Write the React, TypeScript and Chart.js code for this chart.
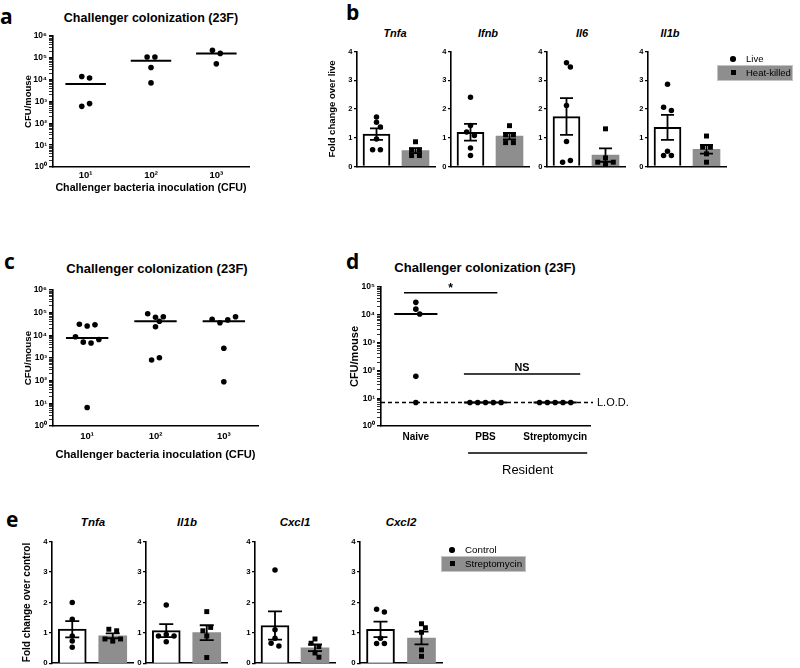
import React, { useEffect, useRef } from 'react';
import { Chart, registerables } from 'chart.js';

Chart.register(...registerables);

const SANS = "'Liberation Sans', Arial, Helvetica, sans-serif";
const LETTER_FONT = "'Open Sans', 'Liberation Sans', Arial, sans-serif";
const GRAY = '#8e8e8e';
const INK = '#000000';

/* ---------------- data: panel a ---------------- */
const aDoseLabels = ['10¹', '10²', '10³'];
const aDose1 = [1.4e4, 1.2e4, 600, 800];
const aDose2 = [1.1e5, 1.1e5, 3.6e4, 7.1e3];
const aDose3 = [2.2e5, 1.6e5, 5.3e4];

/* ---------------- data: panel c ---------------- */
const cDoseLabels = ['10¹', '10²', '10³'];
const cDose1 = [3.1e4, 2.6e4, 2.9e4, 8.7e3, 5.0e3, 4.6e3, 6.5e3, 6.5];
const cDose2 = [9.0e4, 6.3e4, 6.6e4, 4.2e4, 2.4e4, 810, 1020];
const cDose3 = [5.1e4, 3.6e4, 4.8e4, 6.6e4, 2.7e3, 89];

/* ---------------- data: panel d ---------------- */
const dGroupLabels = ['Naive', 'PBS', 'Streptomycin'];
const dNaive = [2.8e4, 1.6e4, 1.07e4, 61, 7];
const dPBS = [7, 7, 7, 7, 7];
const dStreptomycin = [7, 7, 7, 7, 7];
const dLOD = 7;
const dSigLabels = ['*', 'NS'];
const dSigLevels = [6.2e4, 74];
const dSigFrom = [0.83, 1.69];
const dSigTo = [2.17, 3.36];
const dResidentLabel = 'Resident';
const dResidentFrom = 1.75;
const dResidentTo = 3.46;

/* ---------------- data: panel b ---------------- */
const bGenes = ['Tnfa', 'Ifnb', 'Il6', 'Il1b'];
const bLegend = ['Live', 'Heat-killed'];
const bTnfaLive = [1.72, 1.54, 1.37, 0.96, 0.58, 0.58];
const bTnfaHK = [0.86, 0.57, 0.57, 0.38, 0.38];
const bIfnbLive = [2.41, 1.43, 1.2, 1.08, 0.64, 0.38];
const bIfnbHK = [1.42, 1.1, 1.1, 0.83, 0.83];
const bIl6Live = [3.61, 3.46, 2.12, 0.87, 0.15, 0.21];
const bIl6HK = [1.31, 0.15, 0.07, 0.15, 0.3];
const bIl1bLive = [2.86, 2.06, 1.95, 0.53, 0.38, 0.38];
const bIl1bHK = [1.06, 0.67, 0.67, 0.44, 0.15];

/* ---------------- data: panel e ---------------- */
const eGenes = ['Tnfa', 'Il1b', 'Cxcl1', 'Cxcl2'];
const eLegend = ['Control', 'Streptomycin'];
const eTnfaCtrl = [2.0, 1.45, 0.9, 0.73, 0.53];
const eTnfaStrep = [1.12, 1.07, 0.8, 0.73, 0.8];
const eIl1bCtrl = [1.92, 0.9, 0.95, 0.9, 0.71];
const eIl1bStrep = [1.7, 1.07, 1.18, 0.9, 0.19];
const eCxcl1Ctrl = [3.07, 1.1, 0.82, 0.66, 0.57];
const eCxcl1Strep = [0.66, 0.8, 0.55, 0.34, 0.2];
const eCxcl2Ctrl = [1.78, 1.69, 0.82, 0.65, 0.65];
const eCxcl2Strep = [1.3, 1.17, 1.02, 0.44, 0.23];

const bFoldTicks = [0, 1, 2, 3, 4];

/* ---------------- helpers ---------------- */
function mean(v: number[]) {
  return v.reduce((s, x) => s + x, 0) / v.length;
}
function sem(v: number[]) {
  const m = mean(v);
  const ss = v.reduce((s, x) => s + (x - m) * (x - m), 0);
  return Math.sqrt(ss / (v.length - 1)) / Math.sqrt(v.length);
}
function median(v: number[]) {
  const s = [...v].sort((a, b) => a - b);
  const n = s.length;
  return n % 2 ? s[(n - 1) / 2] : (s[n / 2 - 1] + s[n / 2]) / 2;
}
const SUP = ['⁰', '¹', '²', '³', '⁴', '⁵', '⁶', '⁷', '⁸', '⁹'];
function isPow10(v: number) {
  if (!(v > 0)) return false;
  const e = Math.round(Math.log10(v));
  return Math.abs(v - Math.pow(10, e)) < 1e-6 * v;
}
function powLabel(v: number) {
  return isPow10(v) ? '10' + SUP[Math.round(Math.log10(v))] : '';
}
function logTicks(maxExp: number) {
  const t: any[] = [];
  for (let e = 0; e < maxExp; e++) for (let k = 1; k < 10; k++) t.push({ value: k * Math.pow(10, e) });
  t.push({ value: Math.pow(10, maxExp) });
  return t;
}

type Box = { left: number; top: number; w: number; h: number; yW: number; padT: number; padR: number; xH: number };
function makeBox(L: number, T: number, R: number, B: number, yW: number, padT: number, padR: number, xH: number): Box {
  const left = Math.floor(L - yW);
  const top = Math.floor(T - padT);
  const w = Math.ceil(R + padR - left);
  const h = Math.ceil(B + xH - top);
  return { left, top, w, h, yW: L - left, padT: T - top, padR: w - (R - left), xH: h - (B - top) };
}

/* ---------------- plugins ---------------- */
const SWARM_ROW_GAP = 3.5;
const SWARM_STEP = 7.8;
const SWARM_MIN_DIST = 5.0;
const swarmPlugin = {
  id: 'swarmLayout',
  afterDatasetsUpdate(chart: any) {
    chart.data.datasets.forEach((ds: any, di: number) => {
      if (!ds.swarm) return;
      const meta = chart.getDatasetMeta(di);
      const pts = meta.data.map((el: any, idx: number) => ({ el, idx, x0: el.x, y: el.y }));
      const sorted = [...pts].sort((a: any, b: any) => a.y - b.y || a.idx - b.idx);
      const rows: any[][] = [];
      for (const p of sorted) {
        const row = rows[rows.length - 1];
        if (row && p.y - row[row.length - 1].y < SWARM_ROW_GAP) row.push(p);
        else rows.push([p]);
      }
      const placed: { dx: number; y: number }[] = [];
      const shifts = [0];
      for (let k = 1; k <= 16; k++) shifts.push((k * SWARM_STEP) / 2, (-k * SWARM_STEP) / 2);
      for (const row of rows) {
        row.sort((a: any, b: any) => a.idx - b.idx);
        const n = row.length;
        const base = row.map((_: any, j: number) => (j - (n - 1) / 2) * SWARM_STEP);
        let shift = 0;
        for (const s of shifts) {
          const free = row.every((p: any, j: number) =>
            placed.every((q) => Math.hypot(base[j] + s - q.dx, p.y - q.y) >= SWARM_MIN_DIST)
          );
          if (free) {
            shift = s;
            break;
          }
        }
        row.forEach((p: any, j: number) => {
          const dx = base[j] + shift;
          p.el.x = p.x0 + dx;
          placed.push({ dx, y: p.y });
        });
      }
    });
  },
};

const errorBarPlugin = {
  id: 'semErrorBars',
  afterDatasetsDraw(chart: any) {
    const ctx = chart.ctx;
    const yS = chart.scales.y;
    chart.data.datasets.forEach((ds: any, di: number) => {
      if (!ds.errorBars) return;
      const meta = chart.getDatasetMeta(di);
      meta.data.forEach((el: any, j: number) => {
        const m = ds.data[j].y;
        const e = ds.errorBars[j];
        const yt = yS.getPixelForValue(m + e);
        const yb = yS.getPixelForValue(Math.max(m - e, 0));
        const cap = ds.errorCap || 6;
        ctx.save();
        ctx.strokeStyle = INK;
        ctx.lineWidth = 1.8;
        ctx.beginPath();
        ctx.moveTo(el.x, yt);
        ctx.lineTo(el.x, yb);
        ctx.moveTo(el.x - cap, yt);
        ctx.lineTo(el.x + cap, yt);
        ctx.moveTo(el.x - cap, yb);
        ctx.lineTo(el.x + cap, yb);
        ctx.stroke();
        ctx.restore();
      });
    });
  },
};

Chart.register(swarmPlugin as any, errorBarPlugin as any);

const dAnnotPlugin = {
  id: 'dAnnotations',
  beforeDatasetsDraw(chart: any) {
    const { ctx, chartArea, scales } = chart;
    const yy = scales.y.getPixelForValue(dLOD);
    ctx.save();
    ctx.setLineDash([4, 3]);
    ctx.lineWidth = 1.5;
    ctx.strokeStyle = INK;
    ctx.beginPath();
    ctx.moveTo(chartArea.left, yy);
    ctx.lineTo(chartArea.right + 3, yy);
    ctx.stroke();
    ctx.restore();
  },
  afterDraw(chart: any) {
    const { ctx, chartArea, scales } = chart;
    const x = scales.x;
    const y = scales.y;
    ctx.save();
    ctx.fillStyle = INK;
    ctx.strokeStyle = INK;
    ctx.font = `11px ${SANS}`;
    ctx.textAlign = 'left';
    ctx.textBaseline = 'middle';
    ctx.fillText('L.O.D.', chartArea.right + 7, y.getPixelForValue(dLOD) + 0.5);
    dSigLabels.forEach((lab, i) => {
      const py = y.getPixelForValue(dSigLevels[i]);
      ctx.lineWidth = 1.5;
      ctx.beginPath();
      ctx.moveTo(x.getPixelForValue(dSigFrom[i]), py);
      ctx.lineTo(x.getPixelForValue(dSigTo[i]), py);
      ctx.stroke();
      ctx.font = `bold ${lab === '*' ? 12 : 10.8}px ${SANS}`;
      ctx.textAlign = 'center';
      ctx.textBaseline = 'middle';
      const cx = (x.getPixelForValue(dSigFrom[i]) + x.getPixelForValue(dSigTo[i])) / 2;
      ctx.fillText(lab, cx, py - (lab === '*' ? 4 : 6.5));
    });
    const ry = chartArea.bottom + 27;
    ctx.lineWidth = 1.5;
    ctx.beginPath();
    ctx.moveTo(x.getPixelForValue(dResidentFrom), ry);
    ctx.lineTo(x.getPixelForValue(dResidentTo), ry);
    ctx.stroke();
    ctx.font = `13px ${SANS}`;
    ctx.textAlign = 'center';
    ctx.textBaseline = 'middle';
    ctx.fillText(
      dResidentLabel,
      (x.getPixelForValue(dResidentFrom) + x.getPixelForValue(dResidentTo)) / 2,
      chartArea.bottom + 44
    );
    ctx.restore();
  },
};

/* ---------------- chart configs ---------------- */
function common(box: Box) {
  return {
    responsive: false,
    animation: false,
    devicePixelRatio: 1,
    events: [],
    layout: { padding: { left: 0, top: box.padT, right: box.padR, bottom: 0 } },
    plugins: { legend: { display: false }, tooltip: { enabled: false }, title: { display: false } },
  };
}

function yTitle(box: Box, text: string, cx: number, size: number) {
  const lh = size * 1.2;
  return {
    display: true,
    text,
    color: INK,
    font: { family: SANS, size, weight: 'bold' },
    padding: { top: Math.max(0, cx - lh / 2 - box.left), bottom: 0 },
  };
}

function logPanel(
  box: Box,
  groups: number[][],
  labels: string[],
  o: {
    maxExp: number;
    yTitleX: number;
    yTitleSize: number;
    xTitle?: string;
    xTitleY?: number;
    xTitleSize?: number;
    xFont: number;
    xPad: number;
    plugins?: any[];
  }
) {
  const datasets: any[] = [];
  groups.forEach((vals, g) => {
    datasets.push({
      type: 'scatter',
      data: vals.map((v) => ({ x: g + 1, y: v })),
      pointStyle: 'circle',
      pointRadius: 2.8,
      backgroundColor: INK,
      pointBackgroundColor: INK,
      borderWidth: 0,
      pointBorderWidth: 0,
      swarm: true,
      order: 1,
      clip: false,
    });
    const m = median(vals);
    datasets.push({
      type: 'line',
      data: [
        { x: g + 1 - 0.31, y: m },
        { x: g + 1 + 0.31, y: m },
      ],
      showLine: true,
      borderColor: INK,
      borderWidth: 2,
      pointRadius: 0,
      order: 0,
      clip: false,
    });
  });
  let xTitleCfg: any = { display: false };
  if (o.xTitle) {
    const lh = (o.xTitleSize as number) * 1.2;
    xTitleCfg = {
      display: true,
      text: o.xTitle,
      color: INK,
      font: { family: SANS, size: o.xTitleSize, weight: 'bold' },
      padding: { top: 0, bottom: Math.max(0, box.top + box.h - (o.xTitleY as number) - lh / 2) },
    };
  }
  return {
    type: 'scatter',
    data: { datasets },
    plugins: o.plugins || [],
    options: {
      ...common(box),
      scales: {
        x: {
          type: 'linear',
          min: 0.5,
          max: labels.length + 0.5,
          offset: false,
          bounds: 'data',
          afterBuildTicks: (s: any) => {
            s.ticks = labels.map((_, i) => ({ value: i + 1 }));
          },
          afterFit: (s: any) => {
            s.height = box.xH;
          },
          ticks: {
            autoSkip: false,
            maxRotation: 0,
            minRotation: 0,
            padding: o.xPad,
            color: INK,
            font: { family: SANS, size: o.xFont, weight: 'bold' },
            callback: (_v: any, i: number) => labels[i],
          },
          grid: { display: false, drawTicks: false, tickLength: 0 },
          border: { display: true, color: INK, width: 1.6 },
          title: xTitleCfg,
        },
        y: {
          type: 'logarithmic',
          min: 1,
          max: Math.pow(10, o.maxExp),
          afterBuildTicks: (s: any) => {
            s.ticks = logTicks(o.maxExp);
          },
          afterFit: (s: any) => {
            s.width = box.yW;
          },
          ticks: {
            autoSkip: false,
            padding: 2,
            color: INK,
            font: { family: SANS, size: 8.5, weight: 'bold' },
            callback: (_v: any, i: number, ticks: any[]) => powLabel(ticks[i].value),
          },
          grid: {
            display: true,
            drawOnChartArea: false,
            drawTicks: true,
            tickLength: 4,
            color: INK,
            lineWidth: (c: any) => (c.tick && isPow10(c.tick.value) ? 1.4 : 0.8),
          },
          border: { display: true, color: INK, width: 1.6 },
          title: yTitle(box, 'CFU/mouse', o.yTitleX, o.yTitleSize),
        },
      },
    },
  };
}

function barPanel(
  box: Box,
  g1: number[],
  g2: number[],
  o: { barW: number; cap: number; tickFont: number; title?: string; titleX?: number; titleSize?: number }
) {
  return {
    type: 'bar',
    data: {
      datasets: [
        {
          type: 'bar',
          data: [
            { x: 0, y: mean(g1) },
            { x: 1, y: mean(g2) },
          ],
          backgroundColor: ['#ffffff', GRAY],
          borderColor: [INK, GRAY],
          borderWidth: [2, 0],
          barThickness: o.barW,
          errorBars: [sem(g1), sem(g2)],
          errorCap: o.cap,
          order: 3,
        },
        {
          type: 'scatter',
          data: g1.map((v) => ({ x: 0, y: v })),
          pointStyle: 'circle',
          pointRadius: 2.75,
          backgroundColor: INK,
          pointBackgroundColor: INK,
          borderWidth: 0,
          pointBorderWidth: 0,
          swarm: true,
          order: 2,
          clip: false,
        },
        {
          type: 'scatter',
          data: g2.map((v) => ({ x: 1, y: v })),
          pointStyle: 'rect',
          pointRadius: 3.5,
          backgroundColor: INK,
          pointBackgroundColor: INK,
          borderWidth: 0,
          pointBorderWidth: 0,
          swarm: true,
          order: 1,
          clip: false,
        },
      ],
    },
    options: {
      ...common(box),
      scales: {
        x: {
          type: 'linear',
          min: -0.5,
          max: 1.5,
          offset: false,
          bounds: 'data',
          ticks: { display: false },
          grid: { display: false, drawTicks: false, offset: false },
          border: { display: true, color: INK, width: 1.6 },
          afterFit: (s: any) => {
            s.height = box.xH;
          },
        },
        y: {
          type: 'linear',
          min: bFoldTicks[0],
          max: bFoldTicks[bFoldTicks.length - 1],
          afterBuildTicks: (s: any) => {
            s.ticks = bFoldTicks.map((v) => ({ value: v }));
          },
          ticks: {
            padding: 1.5,
            color: INK,
            font: { family: SANS, size: o.tickFont, weight: 'bold' },
            callback: (_v: any, i: number) => String(bFoldTicks[i]),
          },
          grid: { display: true, drawOnChartArea: false, drawTicks: true, tickLength: 3, color: INK, lineWidth: 1.3 },
          border: { display: true, color: INK, width: 1.6 },
          title: o.title ? yTitle(box, o.title, o.titleX as number, o.titleSize as number) : { display: false },
          afterFit: (s: any) => {
            s.width = box.yW;
          },
        },
      },
    },
  };
}

/* ---------------- components ---------------- */
function ChartCanvas({ box, build }: { box: Box; build: (b: Box) => any }) {
  const ref = useRef<HTMLCanvasElement | null>(null);
  useEffect(() => {
    if (!ref.current) return;
    const chart = new Chart(ref.current, build(box));
    return () => chart.destroy();
  }, []);
  return (
    <canvas
      ref={ref}
      width={box.w}
      height={box.h}
      style={{ position: 'absolute', left: box.left, top: box.top, width: box.w, height: box.h }}
    />
  );
}

function Txt(props: {
  x: number;
  y: number;
  text: string;
  size: number;
  bold?: boolean;
  italic?: boolean;
  align?: 'center' | 'left';
}) {
  const { x, y, text, size, bold, italic, align = 'center' } = props;
  return (
    <div
      style={{
        position: 'absolute',
        left: x,
        top: y,
        transform: `translate(${align === 'center' ? '-50%' : '0'}, -50%)`,
        fontFamily: SANS,
        fontSize: size,
        fontWeight: bold ? 'bold' : 'normal',
        fontStyle: italic ? 'italic' : 'normal',
        lineHeight: 1,
        whiteSpace: 'nowrap',
        color: INK,
      }}
    >
      {text}
    </div>
  );
}

function Letter({ x, baseline, text }: { x: number; baseline: number; text: string }) {
  const size = 21;
  return (
    <div
      style={{
        position: 'absolute',
        left: x,
        top: baseline - 0.888 * size,
        fontFamily: LETTER_FONT,
        fontSize: size,
        fontWeight: 'bold',
        lineHeight: 1,
        color: INK,
      }}
    >
      {text}
    </div>
  );
}

function Legend(props: { x: number; y: number; labels: string[]; size: number; boxLeft: number; boxWidth: number }) {
  const { x, y, labels, size, boxLeft, boxWidth } = props;
  const rowGap = 13.5;
  return (
    <>
      <div
        style={{
          position: 'absolute',
          left: boxLeft,
          top: y + 5.5,
          width: boxWidth,
          height: 16,
          background: GRAY,
          border: '1px solid #c4c4c4',
          boxSizing: 'border-box',
        }}
      />
      <div
        style={{
          position: 'absolute',
          left: x - 2.75,
          top: y - 2.75,
          width: 5.5,
          height: 5.5,
          borderRadius: '50%',
          background: INK,
        }}
      />
      <div style={{ position: 'absolute', left: x - 2.5, top: y + rowGap - 2.5, width: 5, height: 5, background: INK }} />
      <Txt x={x + 13} y={y} text={labels[0]} size={size} align="left" />
      <Txt x={x + 13} y={y + rowGap} text={labels[1]} size={size} align="left" />
    </>
  );
}

/* ---------------- layout ---------------- */
const B_PLOTS = [
  [357, 435],
  [451, 529],
  [547, 625],
  [648, 726],
];
const B_TITLE_X = [395, 488, 582, 670];
const B_TOP = 51.5;
const B_BOTTOM = 166.5;

const E_PLOTS = [
  [52, 133],
  [146, 227],
  [255, 335],
  [360, 442],
];
const E_TITLE_X = [93, 187, 295, 401];
const E_TOP = 541.7;
const E_BOTTOM = 663.3;

export default function App() {
  const boxA = makeBox(53, 36, 249, 167, 31, 8, 8, 30);
  const boxC = makeBox(53, 290, 258, 426, 31, 10, 8, 40);
  const boxD = makeBox(381, 287, 590, 426, 33, 12, 42, 56);

  const bPairs = [
    [bTnfaLive, bTnfaHK],
    [bIfnbLive, bIfnbHK],
    [bIl6Live, bIl6HK],
    [bIl1bLive, bIl1bHK],
  ];
  const ePairs = [
    [eTnfaCtrl, eTnfaStrep],
    [eIl1bCtrl, eIl1bStrep],
    [eCxcl1Ctrl, eCxcl1Strep],
    [eCxcl2Ctrl, eCxcl2Strep],
  ];

  return (
    <div
      style={{
        position: 'fixed',
        left: 0,
        top: 0,
        width: 800,
        height: 668,
        overflow: 'hidden',
        background: '#ffffff',
      }}
    >
      {/* panel a */}
      <Letter x={0} baseline={24.5} text="a" />
      <Txt x={151} y={18} text="Challenger colonization (23F)" size={12.5} bold />
      <ChartCanvas
        box={boxA}
        build={(b) =>
          logPanel(b, [aDose1, aDose2, aDose3], aDoseLabels, {
            maxExp: 6,
            yTitleX: 28,
            yTitleSize: 9.5,
            xTitle: 'Challenger bacteria inoculation (CFU)',
            xTitleY: 188.5,
            xTitleSize: 10.7,
            xFont: 9.5,
            xPad: 2.3,
          })
        }
      />

      {/* panel b */}
      <Letter x={346} baseline={21} text="b" />
      {bGenes.map((g, i) => (
        <Txt key={'bt' + g} x={B_TITLE_X[i]} y={33} text={g} size={11} bold italic />
      ))}
      {bPairs.map((pair, i) => {
        const box = makeBox(B_PLOTS[i][0], B_TOP, B_PLOTS[i][1], B_BOTTOM, i === 0 ? 31 : 14, 8, 4, 8);
        return (
          <ChartCanvas
            key={'b' + i}
            box={box}
            build={(b) =>
              barPanel(b, pair[0], pair[1], {
                barW: 27,
                cap: 6.5,
                tickFont: 7.5,
                title: i === 0 ? 'Fold change over live' : undefined,
                titleX: 332,
                titleSize: 9.5,
              })
            }
          />
        );
      })}
      <Legend x={733} y={59} labels={bLegend} size={9.5} boxLeft={717} boxWidth={76} />

      {/* panel c */}
      <Letter x={4} baseline={270} text="c" />
      <Txt x={157} y={268} text="Challenger colonization (23F)" size={13} bold />
      <ChartCanvas
        box={boxC}
        build={(b) =>
          logPanel(b, [cDose1, cDose2, cDose3], cDoseLabels, {
            maxExp: 6,
            yTitleX: 28,
            yTitleSize: 9.8,
            xTitle: 'Challenger bacteria inoculation (CFU)',
            xTitleY: 455,
            xTitleSize: 11.2,
            xFont: 9.5,
            xPad: 5,
          })
        }
      />

      {/* panel d */}
      <Letter x={346} baseline={270} text="d" />
      <Txt x={485} y={267} text="Challenger colonization (23F)" size={13} bold />
      <ChartCanvas
        box={boxD}
        build={(b) =>
          logPanel(b, [dNaive, dPBS, dStreptomycin], dGroupLabels, {
            maxExp: 5,
            yTitleX: 355,
            yTitleSize: 11,
            xFont: 10,
            xPad: 5.7,
            plugins: [dAnnotPlugin],
          })
        }
      />

      {/* panel e */}
      <Letter x={6} baseline={528} text="e" />
      {eGenes.map((g, i) => (
        <Txt key={'et' + g} x={E_TITLE_X[i]} y={523} text={g} size={11.5} bold italic />
      ))}
      {ePairs.map((pair, i) => {
        const box = makeBox(E_PLOTS[i][0], E_TOP, E_PLOTS[i][1], E_BOTTOM, i === 0 ? 31 : 14, 8, 4, 8);
        return (
          <ChartCanvas
            key={'e' + i}
            box={box}
            build={(b) =>
              barPanel(b, pair[0], pair[1], {
                barW: 28,
                cap: 7,
                tickFont: 7.8,
                title: i === 0 ? 'Fold change over control' : undefined,
                titleX: 27,
                titleSize: 10,
              })
            }
          />
        );
      })}
      <Legend x={452} y={550} labels={eLegend} size={9.8} boxLeft={441} boxWidth={85} />
    </div>
  );
}
